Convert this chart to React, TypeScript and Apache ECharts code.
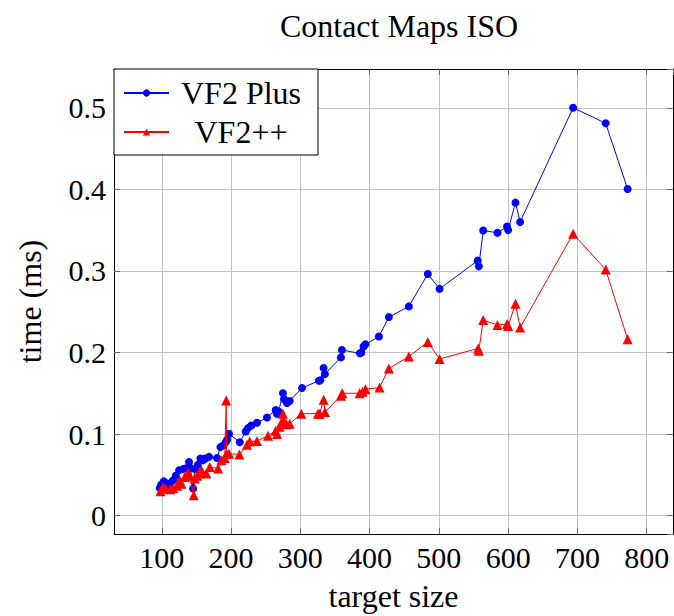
import React, { useEffect, useRef } from "react";
import * as echarts from "echarts";

const titleText = "Contact Maps ISO";
const xName = "target size";
const yName = "time (ms)";
const seriesNames = ["VF2 Plus", "VF2++"];

const blueX = [97, 99, 102.8, 106, 109, 113, 116.3, 120.2, 124.9, 130.7, 135, 139.3, 141.4, 145.1, 147.6, 152, 155.8, 159.5, 163, 168.2, 179.7, 184.6, 188.4, 192.3, 194.2, 197, 212.5, 221.1, 224.4, 229.3, 237.4, 251.9, 264.4, 266.3, 268.7, 274.9, 276.4, 280.7, 284.6, 302.4, 326.9, 328.8, 333.6, 335.5, 358.6, 360, 386, 388, 391.3, 394, 413.4, 427.8, 456.7, 484, 501, 556, 557.7, 564, 584.6, 598.5, 600, 610.6, 617.3, 693.8, 740.8, 772.5];
const blueY = [0.034, 0.038, 0.042, 0.04, 0.0366, 0.04, 0.0434, 0.0488, 0.0556, 0.057, 0.058, 0.0658, 0.0585, 0.0333, 0.057, 0.062, 0.07, 0.068, 0.07, 0.072, 0.0707, 0.084, 0.086, 0.09, 0.093, 0.1004, 0.09, 0.1032, 0.1073, 0.1105, 0.1138, 0.1203, 0.1296, 0.1248, 0.1276, 0.15, 0.143, 0.138, 0.1406, 0.1565, 0.1654, 0.166, 0.181, 0.1735, 0.194, 0.203, 0.199, 0.2, 0.2073, 0.21, 0.2195, 0.2434, 0.2565, 0.2963, 0.278, 0.3126, 0.3056, 0.3495, 0.3467, 0.3544, 0.35, 0.3837, 0.36, 0.5, 0.481, 0.4004];

const redX = [98, 101.9, 106, 112.5, 116.3, 122, 125.9, 128.4, 133.1, 137.9, 140.3, 146.1, 147.6, 150.9, 153.8, 157.2, 164.4, 169.2, 181.2, 186, 190.8, 193, 193.5, 197, 212, 223, 226.9, 237.4, 253.3, 264.4, 266.3, 270, 272.6, 274.9, 276, 279.8, 284.6, 301.4, 325.4, 327.9, 333.6, 335.5, 358.6, 360.6, 385.6, 390, 394, 414.4, 427.8, 456.7, 484, 501, 556.7, 557.7, 564, 584.6, 598.5, 600, 610.6, 617.3, 693.8, 740.8, 772.5];
const redY = [0.03, 0.035, 0.033, 0.0325, 0.034, 0.0366, 0.0434, 0.039, 0.0475, 0.053, 0.0488, 0.025, 0.0455, 0.0488, 0.0516, 0.0556, 0.0516, 0.0597, 0.0577, 0.068, 0.0707, 0.141, 0.076, 0.076, 0.075, 0.087, 0.091, 0.0915, 0.098, 0.104, 0.1, 0.109, 0.114, 0.125, 0.117, 0.112, 0.1126, 0.125, 0.125, 0.125, 0.142, 0.127, 0.147, 0.15, 0.15, 0.152, 0.155, 0.157, 0.1805, 0.195, 0.213, 0.192, 0.205, 0.202, 0.2398, 0.2337, 0.2349, 0.2325, 0.2597, 0.2305, 0.3455, 0.3016, 0.2162];

const X_MIN = 31;
const X_MAX = 838;
const Y_MIN = -0.0225;
const Y_MAX = 0.5475;

const FONT = "Liberation Serif";

export default function App() {
  const ref = useRef<HTMLDivElement>(null);
  useEffect(() => {
    if (!ref.current) return;
    const chart = echarts.init(ref.current, null, { renderer: "svg" });
    const tickStyle = { show: true, inside: true, length: 6, lineStyle: { color: "#666", width: 1 } };
    const axisLine = { show: true, onZero: false, lineStyle: { color: "#000", width: 1 } };
    const gridLine = { show: true, lineStyle: { color: "#c4c4c4", width: 1 } };
    const blueData = blueX.map((x, i) => [x, blueY[i]]);
    const redData = redX.map((x, i) => [x, redY[i]]);
    chart.setOption({
      animation: false,
      backgroundColor: "#fff",
      title: {
        text: titleText,
        left: 394,
        textAlign: "center",
        top: 5,
        textStyle: { fontFamily: FONT, fontSize: 32, fontWeight: "normal", color: "#000" },
      },
      grid: { left: 114, top: 69, right: 1, bottom: 82, containLabel: false, outerBoundsMode: "none" },
      legend: {
        left: 114,
        top: 69,
        orient: "vertical",
        backgroundColor: "#fff",
        borderColor: "#000",
        borderWidth: 1,
        borderRadius: 0,
        padding: [8, 13, 7, 9],
        itemWidth: 45,
        itemHeight: 9,
        itemGap: 7,
        data: seriesNames,
        formatter: (name: string) => `{a|${name}}`,
        textStyle: {
          fontFamily: FONT,
          fontSize: 32,
          color: "#000",
          rich: { a: { fontFamily: FONT, fontSize: 32, width: 128, align: "center", lineHeight: 31, padding: [0, 0, 0, 3] } },
        },
      },
      xAxis: [
        {
          type: "value",
          min: X_MIN,
          max: X_MAX,
          splitNumber: 8,
          name: xName,
          nameLocation: "middle",
          nameGap: 46,
          nameTextStyle: { fontFamily: FONT, fontSize: 32, color: "#000" },
          axisLine,
          axisTick: tickStyle,
          splitLine: gridLine,
          axisLabel: {
            showMinLabel: false,
            showMaxLabel: false,
            margin: 8,
            fontFamily: FONT,
            fontSize: 30,
            color: "#000",
          },
        },
        {
          type: "value",
          position: "top",
          min: X_MIN,
          max: X_MAX,
          splitNumber: 8,
          axisLine,
          axisTick: tickStyle,
          splitLine: { show: false },
          axisLabel: { show: false },
        },
      ],
      yAxis: [
        {
          type: "value",
          min: Y_MIN,
          max: Y_MAX,
          splitNumber: 6,
          name: yName,
          nameLocation: "middle",
          nameRotate: 90,
          nameGap: 68,
          nameTextStyle: { fontFamily: FONT, fontSize: 32, color: "#000" },
          axisLine,
          axisTick: tickStyle,
          splitLine: gridLine,
          axisLabel: {
            showMinLabel: false,
            showMaxLabel: false,
            margin: 8,
            fontFamily: FONT,
            fontSize: 30,
            color: "#000",
            formatter: (v: number) => String(Math.round(v * 10) / 10),
          },
        },
        {
          type: "value",
          position: "right",
          min: Y_MIN,
          max: Y_MAX,
          splitNumber: 6,
          axisLine,
          axisTick: tickStyle,
          splitLine: { show: false },
          axisLabel: { show: false },
        },
      ],
      series: [
        {
          name: seriesNames[0],
          type: "line",
          data: blueData,
          symbol: "circle",
          symbolSize: 8,
          showAllSymbol: true,
          color: "#0000ff",
          lineStyle: { color: "#0000ff", width: 1 },
          itemStyle: { color: "#0000ff" },
          z: 3,
        },
        {
          name: seriesNames[1],
          type: "line",
          data: redData,
          symbol: "triangle",
          symbolSize: 10,
          showAllSymbol: true,
          color: "#ff0000",
          lineStyle: { color: "#ff0000", width: 1 },
          itemStyle: { color: "#ff0000" },
          z: 4,
        },
      ],
    });
    return () => chart.dispose();
  }, []);
  return <div ref={ref} style={{ position: "absolute", left: 0, top: 0, width: 674, height: 616 }} />;
}
